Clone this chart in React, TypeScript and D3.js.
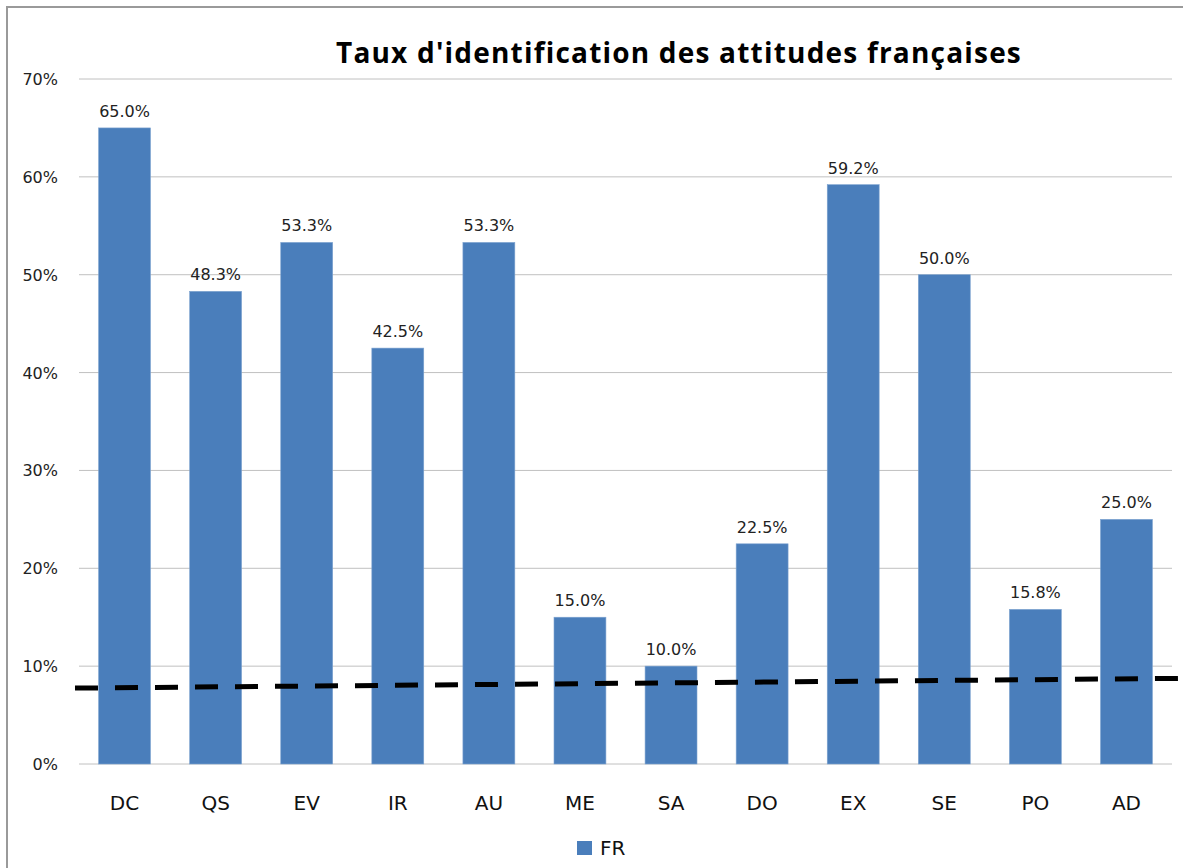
import React from "react";
import * as d3 from "d3";

const categories = ["DC", "QS", "EV", "IR", "AU", "ME", "SA", "DO", "EX", "SE", "PO", "AD"];
const values = [65.0, 48.3, 53.3, 42.5, 53.3, 15.0, 10.0, 22.5, 59.2, 50.0, 15.8, 25.0];
const yTicks = [0, 10, 20, 30, 40, 50, 60, 70];
const trendValues = [7.8, 8.7]; // at first and last category
const seriesName = "FR";
const title = "Taux d'identification des attitudes françaises";

const W = 1183;
const H = 868;
const FONT = "'DejaVu Sans', 'Noto Sans', sans-serif";
const TITLE_FONT = "'Open Sans', 'Noto Sans', sans-serif";
const BAR = "#4A7EBB";

export default function App() {
  const x = d3.scaleBand<string>().domain(categories).range([79, 1172]).paddingInner(0.43).paddingOuter(0.215);
  const y = d3.scaleLinear().domain([0, 70]).range([764, 79]);

  const cx = (c: string) => (x(c) as number) + x.bandwidth() / 2;
  const x0 = cx(categories[0]);
  const x1 = cx(categories[categories.length - 1]);
  const trend = d3.scaleLinear().domain([x0, x1]).range(trendValues);
  const lineGen = d3.line<number>().x((d) => d).y((d) => y(trend(d)));
  const trendPath = lineGen([75, 1200]) as string;

  return (
    <svg width={W} height={H} style={{ position: "absolute", left: 0, top: 0, background: "#fff" }} fontFamily={FONT}>
      <rect x={0} y={0} width={W} height={H} fill="#fff" />
      {/* outer border (left and top) */}
      <path d={`M7,${H} L7,7 L${W},7`} fill="none" stroke="#9a9a9a" strokeWidth={2} />
      <text x={679} y={63} textAnchor="middle" fontSize={28} fontWeight="bold" fill="#000" fontFamily={TITLE_FONT} letterSpacing={1.2}>
        {title}
      </text>
      {yTicks.map((t) => (
        <g key={t}>
          <line x1={79} x2={1172} y1={y(t)} y2={y(t)} stroke="#c0c0c0" strokeWidth={1} />
          <text x={58} y={y(t) + 6} textAnchor="end" fontSize={16} fill="#222">
            {t}%
          </text>
        </g>
      ))}
      {categories.map((c, i) => (
        <g key={c}>
          <rect
            x={x(c)}
            y={y(values[i])}
            width={x.bandwidth()}
            height={y(0) - y(values[i])}
            fill={BAR}
            stroke="#7da3d0"
            strokeWidth={0.6}
          />
          <text x={cx(c)} y={y(values[i]) - 11} textAnchor="middle" fontSize={16} fill="#222">
            {values[i].toFixed(1)}%
          </text>
          <text x={cx(c)} y={810} textAnchor="middle" fontSize={20} fill="#111">
            {c}
          </text>
        </g>
      ))}
      <path d={trendPath} fill="none" stroke="#000" strokeWidth={5} strokeDasharray="23,17" />
      <rect x={577} y={841} width={15} height={14} fill={BAR} />
      <text x={600} y={855} fontSize={20} fill="#111">
        {seriesName}
      </text>
    </svg>
  );
}
